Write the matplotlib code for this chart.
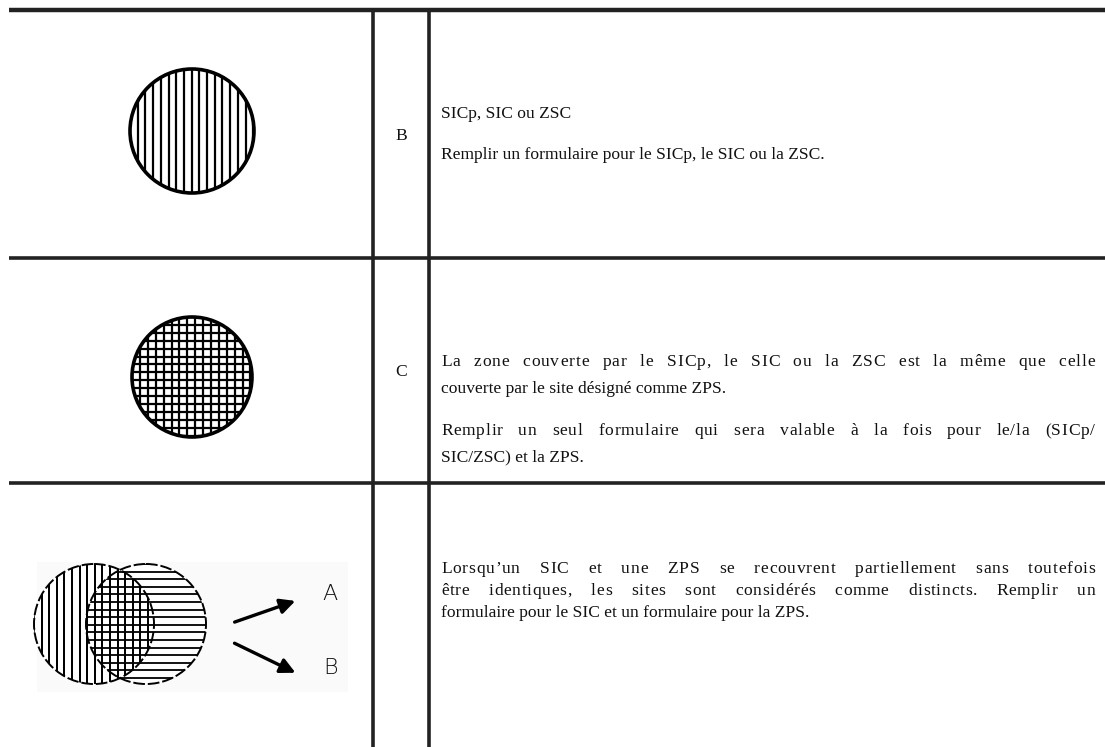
import numpy as np
import matplotlib.pyplot as plt
from matplotlib.patches import Circle, Rectangle

# table content
row_codes = ["B", "C", ""]
row_paragraphs = [
    [["SICp, SIC ou ZSC"],
     ["Remplir un formulaire pour le SICp, le SIC ou la ZSC."]],
    [["La zone couverte par le SICp, le SIC ou la ZSC est la même que celle",
      "couverte par le site désigné comme ZPS."],
     ["Remplir un seul formulaire qui sera valable à la fois pour le/la (SICp/",
      "SIC/ZSC) et la ZPS."]],
    [["Lorsqu\u2019un SIC et une ZPS se recouvrent partiellement sans toutefois",
      "être identiques, les sites sont considérés comme distincts. Remplir un",
      "formulaire pour le SIC et un formulaire pour la ZPS."]],
]
# y of each line (px from top)
line_y = [
    [[114], [155]],
    [[362, 389], [431, 457]],
    [[569, 591, 613]],
]
arrow_labels = ["A", "B"]

W, H = 1105, 747
fig = plt.figure(figsize=(W / 100, H / 100), dpi=100)
ax = fig.add_axes([0, 0, 1, 1])
ax.set_xlim(0, W)
ax.set_ylim(H, 0)
ax.axis("off")

LINE = "#222222"
x_left, x_c1, x_c2, x_right = 9, 373, 429, W
row_tops = [10, 258, 483]
text_x0, text_x1 = 441, 1095
serif = ["Liberation Serif", "DejaVu Serif"]
fs = 12.6

# grid lines
ax.plot([x_left, x_right], [row_tops[0], row_tops[0]], color=LINE, lw=3.2, solid_capstyle="butt")
for yy in row_tops[1:]:
    ax.plot([x_left, x_right], [yy, yy], color=LINE, lw=2.6, solid_capstyle="butt")
for xx in (x_c1, x_c2):
    ax.plot([xx, xx], [row_tops[0], H], color=LINE, lw=2.6, solid_capstyle="butt")

renderer = fig.canvas.get_renderer()


def put_text(s, x, y):
    return ax.text(x, y, s, fontsize=fs, family=serif, va="center", ha="left", color="#111111")


def width_of(s):
    t = put_text(s, 0, 300)
    w = t.get_window_extent(renderer).width
    t.remove()
    return w


space_w = width_of("a a") - 2 * width_of("a")


def justified(line, y, x0, x1, justify):
    if not justify:
        put_text(line, x0, y)
        return
    words = line.split(" ")
    # a bit of the stretch goes into letter spacing, the rest into word gaps
    cw = [[width_of(c) for c in w] for w in words]
    natural = sum(sum(w) for w in cw) + space_w * (len(words) - 1)
    extra = x1 - x0 - natural
    n_inner = sum(len(w) - 1 for w in words)
    letter_gap = 0.2 * extra / max(n_inner, 1)
    word_gap = space_w + 0.8 * extra / (len(words) - 1)
    x = x0
    for w, ws in zip(words, cw):
        for c, wd in zip(w, ws):
            put_text(c, x, y)
            x += wd + letter_gap
        x += word_gap - letter_gap


for k, (code, paras, ys) in enumerate(zip(row_codes, row_paragraphs, line_y)):
    top = row_tops[k]
    bottom = row_tops[k + 1] if k + 1 < len(row_tops) else H
    if code:
        ax.text((x_c1 + x_c2) / 2, (top + bottom) / 2 + 2, code, fontsize=fs, family=serif,
                ha="center", va="center", color="#111111")
    for para, pys in zip(paras, ys):
        for i, (ln, yy) in enumerate(zip(para, pys)):
            justified(ln, yy, text_x0, text_x1, justify=(i < len(para) - 1))


def hatch_lines(cx, cy, r, vertical, clip, spacing=7.7, lw=1.6):
    for o in np.arange(-r, r + 0.1, spacing):
        if vertical:
            l, = ax.plot([cx + o, cx + o], [cy - r, cy + r], color="black", lw=lw)
        else:
            l, = ax.plot([cx - r, cx + r], [cy + o, cy + o], color="black", lw=lw)
        l.set_clip_path(clip)


def hatch_circle(cx, cy, r, vertical, horizontal, spacing=7.7, lw=1.6, edge_lw=2.6):
    c = Circle((cx, cy), r, facecolor="white", edgecolor="none")
    ax.add_patch(c)
    if vertical:
        hatch_lines(cx, cy, r, True, c, spacing, lw)
    if horizontal:
        hatch_lines(cx, cy, r, False, c, spacing, lw)
    ax.add_patch(Circle((cx, cy), r, facecolor="none", edgecolor="black", lw=edge_lw))


# row 1 : vertical hatch
hatch_circle(192, 131, 62, True, False)
# row 2 : cross hatch
hatch_circle(192, 377, 60, True, True, spacing=7.9)

# row 3 : two overlapping sites
ax.add_patch(Rectangle((37, 562), 311, 130, facecolor="#fafafa", edgecolor="none"))
cy3, r3 = 624, 60
lx, rx = 94, 146
left = Circle((lx, cy3), r3, facecolor="white", edgecolor="none")
ax.add_patch(left)
hatch_lines(lx, cy3, r3, True, left, 7.6, 1.3)
right = Circle((rx, cy3), r3, facecolor="white", edgecolor="none")
ax.add_patch(right)
hatch_lines(rx, cy3, r3, False, right, 7.6, 1.3)
# vertical lines again on the left circle -> crossed lens in the overlap
left_clip = Circle((lx, cy3), r3, facecolor="none", edgecolor="none")
ax.add_patch(left_clip)
hatch_lines(lx, cy3, r3, True, left_clip, 7.6, 1.3)
for cx in (lx, rx):
    ax.add_patch(Circle((cx, cy3), r3, facecolor="none", edgecolor="black", lw=1.4,
                        ls=(0, (6, 1.5))))

ax.annotate("", xy=(298, 600), xytext=(232, 623),
            arrowprops=dict(arrowstyle="-|>,head_length=0.9,head_width=0.45", color="black", lw=2.4))
ax.annotate("", xy=(298, 674), xytext=(232, 642),
            arrowprops=dict(arrowstyle="-|>,head_length=0.9,head_width=0.45", color="black", lw=2.4))
ax.text(330, 594, arrow_labels[0], fontsize=16, family="DejaVu Sans", fontweight="light",
        ha="center", va="center", color="#111111")
ax.text(330, 668, arrow_labels[1], fontsize=16, family="DejaVu Sans", fontweight="light",
        ha="center", va="center", color="#111111")

fig.savefig("out.png", dpi=100, facecolor="white")
